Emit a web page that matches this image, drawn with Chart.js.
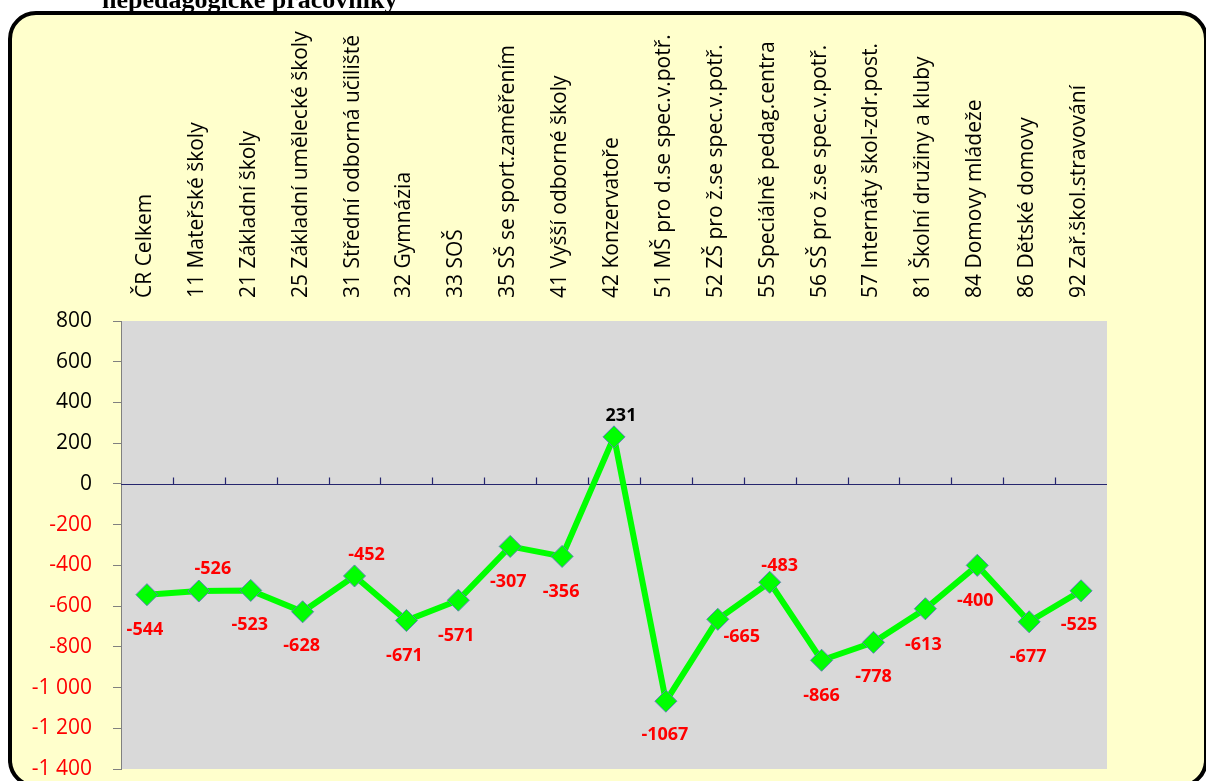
<!DOCTYPE html>
<html>
<head>
<meta charset="utf-8">
<script src="https://cdn.jsdelivr.net/npm/chart.js@4/dist/chart.umd.min.js"></script>
<style>
  html, body { margin: 0; padding: 0; background: #fff; overflow: hidden; }
  body { width: 1206px; height: 781px; position: relative; }
  .frame {
    position: absolute; left: 8px; top: 11px; width: 1192px; height: 769px;
    border: 4px solid #000; border-radius: 28px; background: #FFFFCC;
  }
  .title {
    position: absolute; left: 102px; top: -15px; z-index: 2;
    font: bold 26px "Liberation Serif", "DejaVu Serif", serif; color: #000; white-space: nowrap;
  }
  .wrap { position: absolute; left: 0; top: 0; width: 1206px; height: 781px; z-index: 1; }
</style>
</head>
<body>
<div class="frame"></div>
<div class="title">nepedagogické pracovníky</div>
<div class="wrap"><canvas id="chart"></canvas></div>
<script>
const categories = [
  'ČR Celkem', '11 Mateřské školy', '21 Základní školy', '25 Základní umělecké školy',
  '31 Střední odborná učiliště', '32 Gymnázia', '33 SOŠ', '35 SŠ se sport.zaměřením',
  '41 Vyšší odborné školy', '42 Konzervatoře', '51 MŠ pro d.se spec.v.potř.',
  '52 ZŠ pro ž.se spec.v.potř.', '55 Speciálně pedag.centra', '56 SŠ pro ž.se spec.v.potř.',
  '57 Internáty škol-zdr.post.', '81 Školní družiny a kluby', '84 Domovy mládeže',
  '86 Dětské domovy', '92 Zař.škol.stravování'
];
const values = [-544, -526, -523, -628, -452, -671, -571, -307, -356, 231, -1067, -665, -483, -866, -778, -613, -400, -677, -525];
const yMin = -1400, yMax = 800, yStep = 200;

// label placement relative to the marker (style only)
const labelShift = [
  [-2, 35], [14, -22], [-1, 34], [-1, 34], [12, -21], [-2, 35], [-2, 36], [-2, 35], [-1, 35], [7, -21],
  [-1, 34], [24, 18], [10, -16], [0, 36], [0, 35], [-2, 36], [-2, 36], [-1, 35], [-2, 34]
];

const fmt = v => String(v).replace(/\B(?=(\d{3})+(?!\d))/g, ' ');

const plotDecor = {
  id: 'plotDecor',
  beforeDraw(chart) {
    const { ctx, chartArea: a } = chart;
    ctx.save();
    ctx.fillStyle = '#D9D9D9';
    ctx.fillRect(a.left, a.top, a.right - a.left, a.bottom - a.top);
    ctx.restore();
  },
  beforeDatasetsDraw(chart) {
    const { ctx, chartArea: a, scales } = chart;
    const y0 = Math.round(scales.y.getPixelForValue(0)) + 0.5;
    ctx.save();
    ctx.strokeStyle = '#26266E';
    ctx.lineWidth = 1.2;
    ctx.beginPath();
    ctx.moveTo(a.left, y0);
    ctx.lineTo(a.right, y0);
    const n = categories.length;
    const step = (a.right - a.left) / n;
    for (let i = 1; i < n; i++) {
      const x = Math.round(scales.x.getPixelForTick(i) - step / 2) + 0.5;
      ctx.moveTo(x, y0);
      ctx.lineTo(x, y0 - 7);
    }
    ctx.stroke();

    // category names, rotated, above the plot
    ctx.fillStyle = '#000';
    ctx.font = '21px "Open Sans", sans-serif';
    ctx.textAlign = 'left';
    ctx.textBaseline = 'middle';
    categories.forEach((c, i) => {
      ctx.save();
      ctx.translate(scales.x.getPixelForTick(i) - 2, a.top - 23);
      ctx.rotate(-Math.PI / 2);
      ctx.fillText(c, 0, 0);
      ctx.restore();
    });
    ctx.restore();
  },
  afterDatasetsDraw(chart) {
    const { ctx } = chart;
    const meta = chart.getDatasetMeta(0);
    ctx.save();
    ctx.font = 'bold 18px "Open Sans", sans-serif';
    ctx.textAlign = 'center';
    ctx.textBaseline = 'middle';
    meta.data.forEach((pt, i) => {
      const v = values[i];
      ctx.fillStyle = v < 0 ? '#FF0000' : '#000000';
      ctx.fillText(String(v), pt.x + labelShift[i][0], pt.y + labelShift[i][1]);
    });
    ctx.restore();
  }
};

new Chart(document.getElementById('chart'), {
  type: 'line',
  data: {
    labels: categories,
    datasets: [{
      data: values,
      borderColor: '#00FF00',
      borderWidth: 6,
      tension: 0,
      pointStyle: 'rectRot',
      pointRadius: 11,
      pointHoverRadius: 11,
      pointBackgroundColor: '#00FF00',
      pointBorderColor: '#5A82B4',
      pointBorderWidth: 1,
      fill: false
    }]
  },
  options: {
    responsive: true,
    maintainAspectRatio: false,
    animation: false,
    layout: { padding: { left: 0, top: 0, right: 99, bottom: 10 } },
    scales: {
      x: {
        type: 'category',
        position: 'top',
        offset: true,
        grid: { display: false, drawTicks: false },
        border: { display: false },
        ticks: { display: false },
        afterFit: s => { s.height = 321; s.paddingLeft = 0; s.paddingRight = 0; }
      },
      y: {
        min: yMin, max: yMax,
        grid: { drawOnChartArea: false, drawTicks: true, tickLength: 8, color: '#808080' },
        border: { display: true, color: '#808080', width: 1 },
        ticks: {
          stepSize: yStep, padding: 21,
          color: c => c.tick.value < 0 ? '#FF0000' : '#000000',
          font: { family: '"Open Sans", sans-serif', size: 21 },
          callback: v => fmt(v)
        },
        afterFit: s => { s.width = 121; s.paddingTop = 0; s.paddingBottom = 0; }
      }
    },
    plugins: {
      legend: { display: false },
      tooltip: { enabled: false }
    }
  },
  plugins: [plotDecor]
});
</script>
</body>
</html>
